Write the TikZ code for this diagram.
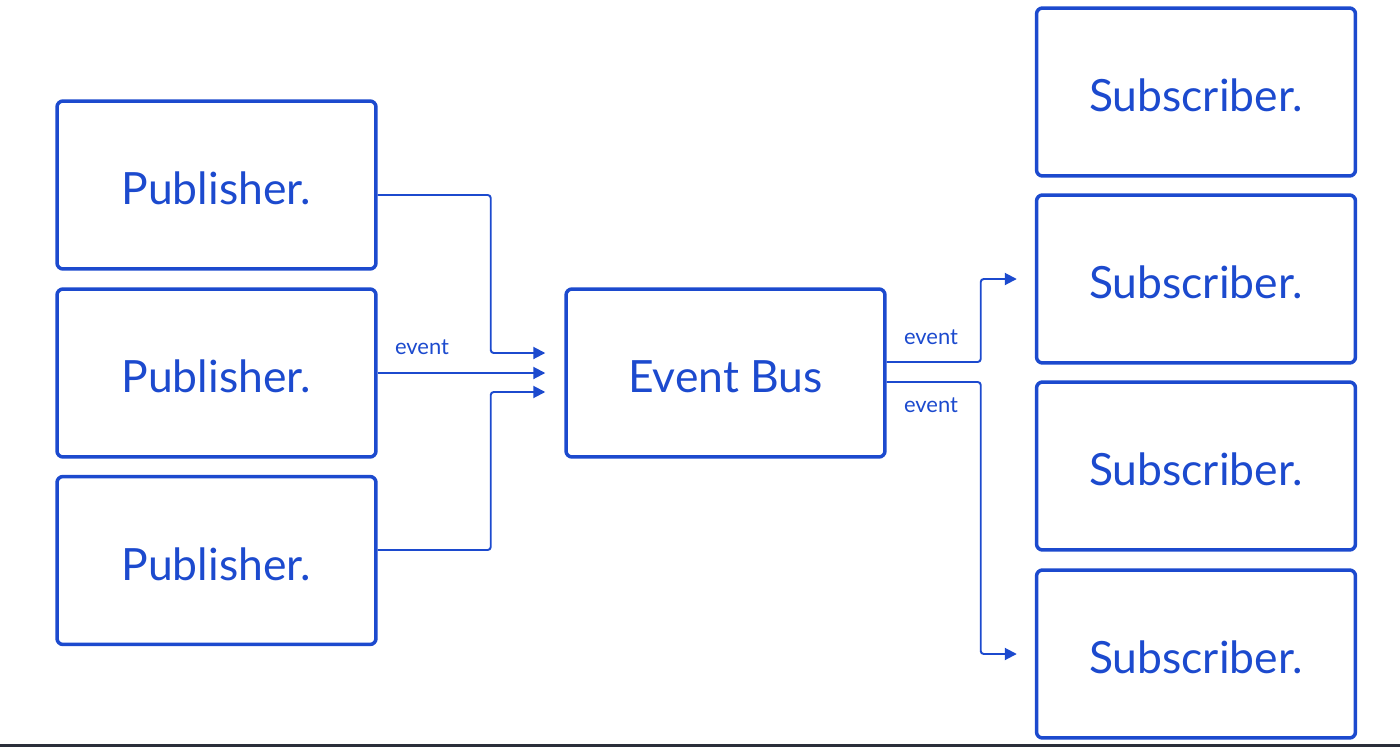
\documentclass[tikz,border=0pt]{standalone}
\usepackage{fontspec}
\setmainfont{Lato}
\usetikzlibrary{arrows.meta}
\definecolor{busblue}{RGB}{28,74,206}
\definecolor{darkline}{RGB}{42,47,58}
\begin{document}
\begin{tikzpicture}[x=0.02cm, y=-0.02cm, >={Triangle[length=2.4mm,width=2.4mm]},
    % Stil für die Kästen (Publisher, Bus, Subscriber)
        box/.style={rectangle, rounded corners=1.2mm, draw=busblue, line width=2pt, text=busblue, minimum width=6.38cm, minimum height=3.36cm, text height=22.8pt, font=\fontsize{25.3}{30}\selectfont},
    % Stil für die Verbindungen
        relation/.style={->, draw=busblue, line width=1.1pt, rounded corners=0.6mm},
    % Stil für die Beschriftungen
        tag/.style={text=busblue, font=\fontsize{12.5}{15}\selectfont}]

        \useasboundingbox (0,0) rectangle (1400,747);
        \fill[darkline] (0,744) rectangle (1400,747);

        % Publisher links
        \node[box] (p1) at (216.5,185) {Publisher.};
        \node[box] (p2) at (216.5,373) {Publisher.};
        \node[box] (p3) at (216.5,560.5) {Publisher.};

        % Bus in der Mitte
        \node[box] (bus) at (725.5,373) {Event Bus};

        % Subscriber rechts
        \node[box] (s1) at (1196,92) {Subscriber.};
        \node[box] (s2) at (1196,279) {Subscriber.};
        \node[box] (s3) at (1196,466) {Subscriber.};
        \node[box] (s4) at (1196,654) {Subscriber.};

        % Verbindungen zum Bus
        \draw[relation] ([yshift=-0.2cm]p1.east) -- ++(113,0) |- ([xshift=-0.38cm,yshift=0.4cm]bus.west);
        \draw[relation] (p2.east) -- ([xshift=-0.38cm]bus.west);
        \draw[relation] ([yshift=0.21cm]p3.east) -- ++(113,0) |- ([xshift=-0.38cm,yshift=-0.38cm]bus.west);

        % Verbindungen zu den Subscribern
        \draw[relation] ([yshift=0.22cm]bus.east) -- ++(94,0) |- ([xshift=-0.36cm]s2.west);
        \draw[relation] ([yshift=-0.18cm]bus.east) -- ++(94,0) |- ([xshift=-0.36cm]s4.west);

        % Beschriftungen
        \node[tag] (e1) at (422,347) {event};
        \node[tag] (e2) at (931,337) {event};
        \node[tag] (e3) at (931,405) {event};
    \end{tikzpicture}
\end{document}
